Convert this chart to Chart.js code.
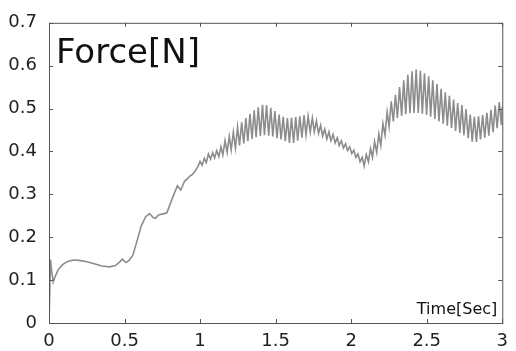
<!DOCTYPE html>
<html>
<head>
<meta charset="utf-8">
<script src="https://cdn.jsdelivr.net/npm/chart.js@4/dist/chart.umd.min.js"></script>
<style>
  html, body { margin: 0; padding: 0; background: #fff; }
  canvas { display: block; }
</style>
</head>
<body>
<canvas id="forceChart" width="516" height="351"></canvas>
<script>
// start-up part
const smoothTime = [0, 0.010, 0.018, 0.028, 0.040, 0.060, 0.090, 0.120, 0.160, 0.200,
  0.250, 0.300, 0.350, 0.400, 0.440, 0.470, 0.485, 0.510, 0.530, 0.555,
  0.580, 0.610, 0.640, 0.665, 0.690, 0.705, 0.725, 0.760, 0.780, 0.820,
  0.850, 0.872, 0.898, 0.915, 0.930, 0.945, 0.963, 0.985];
const smoothForce = [0, 0.148, 0.120, 0.096, 0.108, 0.124, 0.136, 0.143, 0.147, 0.146,
  0.143, 0.138, 0.133, 0.131, 0.134, 0.143, 0.149, 0.141, 0.146, 0.158,
  0.188, 0.226, 0.248, 0.255, 0.246, 0.244, 0.252, 0.255, 0.257, 0.294,
  0.320, 0.310, 0.331, 0.336, 0.342, 0.345, 0.352, 0.364];

// oscillating part: peak, trough, peak, trough ...
const oscTime = [1.000, 1.014, 1.028, 1.041, 1.055, 1.069, 1.083, 1.096, 1.110, 1.124,
  1.138, 1.151, 1.165, 1.179, 1.193, 1.206, 1.220, 1.234, 1.248, 1.261,
  1.275, 1.289, 1.303, 1.316, 1.330, 1.344, 1.358, 1.371, 1.385, 1.399,
  1.413, 1.426, 1.440, 1.454, 1.468, 1.481, 1.495, 1.509, 1.523, 1.536,
  1.550, 1.564, 1.578, 1.591, 1.605, 1.619, 1.633, 1.646, 1.660, 1.674,
  1.688, 1.701, 1.715, 1.729, 1.743, 1.756, 1.770, 1.784, 1.798, 1.811,
  1.825, 1.839, 1.853, 1.866, 1.880, 1.894, 1.908, 1.921, 1.935, 1.949,
  1.963, 1.976, 1.990, 2.004, 2.018, 2.031, 2.045, 2.059, 2.073, 2.086,
  2.100, 2.114, 2.128, 2.141, 2.155, 2.169, 2.183, 2.196, 2.210, 2.224,
  2.238, 2.251, 2.265, 2.279, 2.293, 2.306, 2.320, 2.334, 2.348, 2.361,
  2.375, 2.389, 2.403, 2.416, 2.430, 2.444, 2.458, 2.471, 2.485, 2.499,
  2.513, 2.526, 2.540, 2.554, 2.568, 2.581, 2.595, 2.609, 2.623, 2.636,
  2.650, 2.664, 2.678, 2.691, 2.705, 2.719, 2.733, 2.746, 2.760, 2.774,
  2.788, 2.801, 2.815, 2.829, 2.843, 2.856, 2.870, 2.884, 2.898, 2.911,
  2.925, 2.939, 2.953, 2.966, 2.980, 2.994, 3.000];
const oscForce = [0.377, 0.368, 0.384, 0.374, 0.394, 0.382, 0.397, 0.385, 0.402, 0.388,
  0.411, 0.392, 0.425, 0.398, 0.435, 0.404, 0.445, 0.408, 0.457, 0.414,
  0.468, 0.419, 0.478, 0.424, 0.488, 0.429, 0.496, 0.433, 0.503, 0.436,
  0.509, 0.438, 0.508, 0.437, 0.502, 0.435, 0.494, 0.431, 0.486, 0.428,
  0.481, 0.424, 0.478, 0.420, 0.479, 0.420, 0.480, 0.425, 0.482, 0.432,
  0.484, 0.439, 0.482, 0.445, 0.478, 0.446, 0.471, 0.442, 0.461, 0.436,
  0.452, 0.429, 0.446, 0.425, 0.440, 0.420, 0.432, 0.414, 0.425, 0.408,
  0.418, 0.402, 0.411, 0.395, 0.403, 0.386, 0.394, 0.376, 0.386, 0.366,
  0.393, 0.376, 0.407, 0.386, 0.423, 0.398, 0.441, 0.414, 0.465, 0.438,
  0.492, 0.458, 0.517, 0.470, 0.532, 0.478, 0.550, 0.483, 0.566, 0.487,
  0.579, 0.489, 0.587, 0.490, 0.591, 0.490, 0.588, 0.488, 0.582, 0.485,
  0.575, 0.481, 0.566, 0.476, 0.557, 0.470, 0.546, 0.465, 0.538, 0.460,
  0.530, 0.455, 0.521, 0.448, 0.513, 0.443, 0.508, 0.438, 0.499, 0.431,
  0.486, 0.423, 0.481, 0.422, 0.482, 0.428, 0.485, 0.432, 0.490, 0.437,
  0.497, 0.445, 0.507, 0.454, 0.515, 0.462, 0.505];

const xTicks = [0, 0.5, 1, 1.5, 2, 2.5, 3];
const xTickLabels = ["0", "0.5", "1", "1.5", "2", "2.5", "3"];
const yTicks = [0, 0.1, 0.2, 0.3, 0.4, 0.5, 0.6, 0.7];
const yTickLabels = ["0", "0.1", "0.2", "0.3", "0.4", "0.5", "0.6", "0.7"];

const yTitle = "Force[N]";
const xTitle = "Time[Sec]";

const FONT = "'DejaVu Sans', sans-serif";

const points = smoothTime.map((t, i) => ({ x: t, y: smoothForce[i] }))
  .concat(oscTime.map((t, i) => ({ x: t, y: oscForce[i] })));

// box round the plot, inward ticks on all four sides, and the two labels inside
const frame = {
  id: "frame",
  afterDraw(chart) {
    const { ctx, chartArea: a, scales } = chart;
    ctx.save();
    ctx.strokeStyle = "#555";
    ctx.lineWidth = 1;
    ctx.strokeRect(a.left + 0.5, a.top + 0.5, a.right - a.left, a.bottom - a.top);
    ctx.beginPath();
    xTicks.forEach((v) => {
      const px = Math.round(scales.x.getPixelForValue(v)) + 0.5;
      ctx.moveTo(px, a.bottom); ctx.lineTo(px, a.bottom - 4);
      ctx.moveTo(px, a.top); ctx.lineTo(px, a.top + 4);
    });
    yTicks.forEach((v) => {
      const py = Math.round(scales.y.getPixelForValue(v)) + 0.5;
      ctx.moveTo(a.left, py); ctx.lineTo(a.left + 4, py);
      ctx.moveTo(a.right, py); ctx.lineTo(a.right - 4, py);
    });
    ctx.stroke();

    ctx.fillStyle = "#111";
    ctx.font = "34px " + FONT;
    ctx.textAlign = "left";
    ctx.textBaseline = "alphabetic";
    ctx.fillText(yTitle, a.left + 7, a.top + 40);
    ctx.font = "16px " + FONT;
    ctx.textAlign = "right";
    ctx.fillText(xTitle, a.right - 5, a.bottom - 9);
    ctx.restore();
  },
};

new Chart(document.getElementById("forceChart"), {
  type: "line",
  data: {
    datasets: [
      {
        data: points,
        borderColor: "#8c8c8c",
        borderWidth: 1.6,
        pointRadius: 0,
        tension: 0,
        fill: false,
      },
    ],
  },
  options: {
    responsive: false,
    animation: false,
    parsing: false,
    layout: { padding: { top: 13, right: 8, left: 0, bottom: 0 } },
    plugins: { legend: { display: false }, tooltip: { enabled: false } },
    scales: {
      x: {
        type: "linear",
        min: 0,
        max: 3,
        grid: { display: false, drawTicks: false },
        border: { display: false },
        afterBuildTicks: (s) => { s.ticks = xTicks.map((v) => ({ value: v })); },
        afterFit: (s) => { s.height = 28; },
        ticks: {
          padding: 8,
          color: "#222",
          font: { family: FONT, size: 18 },
          maxRotation: 0,
          autoSkip: false,
          callback: (v, i) => xTickLabels[i],
        },
      },
      y: {
        type: "linear",
        min: 0,
        max: 0.7,
        grid: { display: false, drawTicks: false },
        border: { display: false },
        afterBuildTicks: (s) => { s.ticks = yTicks.map((v) => ({ value: v })); },
        afterFit: (s) => { s.width = 49; },
        ticks: {
          padding: 12,
          color: "#222",
          font: { family: FONT, size: 18 },
          autoSkip: false,
          callback: (v, i) => yTickLabels[i],
        },
      },
    },
  },
  plugins: [frame],
});
</script>
</body>
</html>
